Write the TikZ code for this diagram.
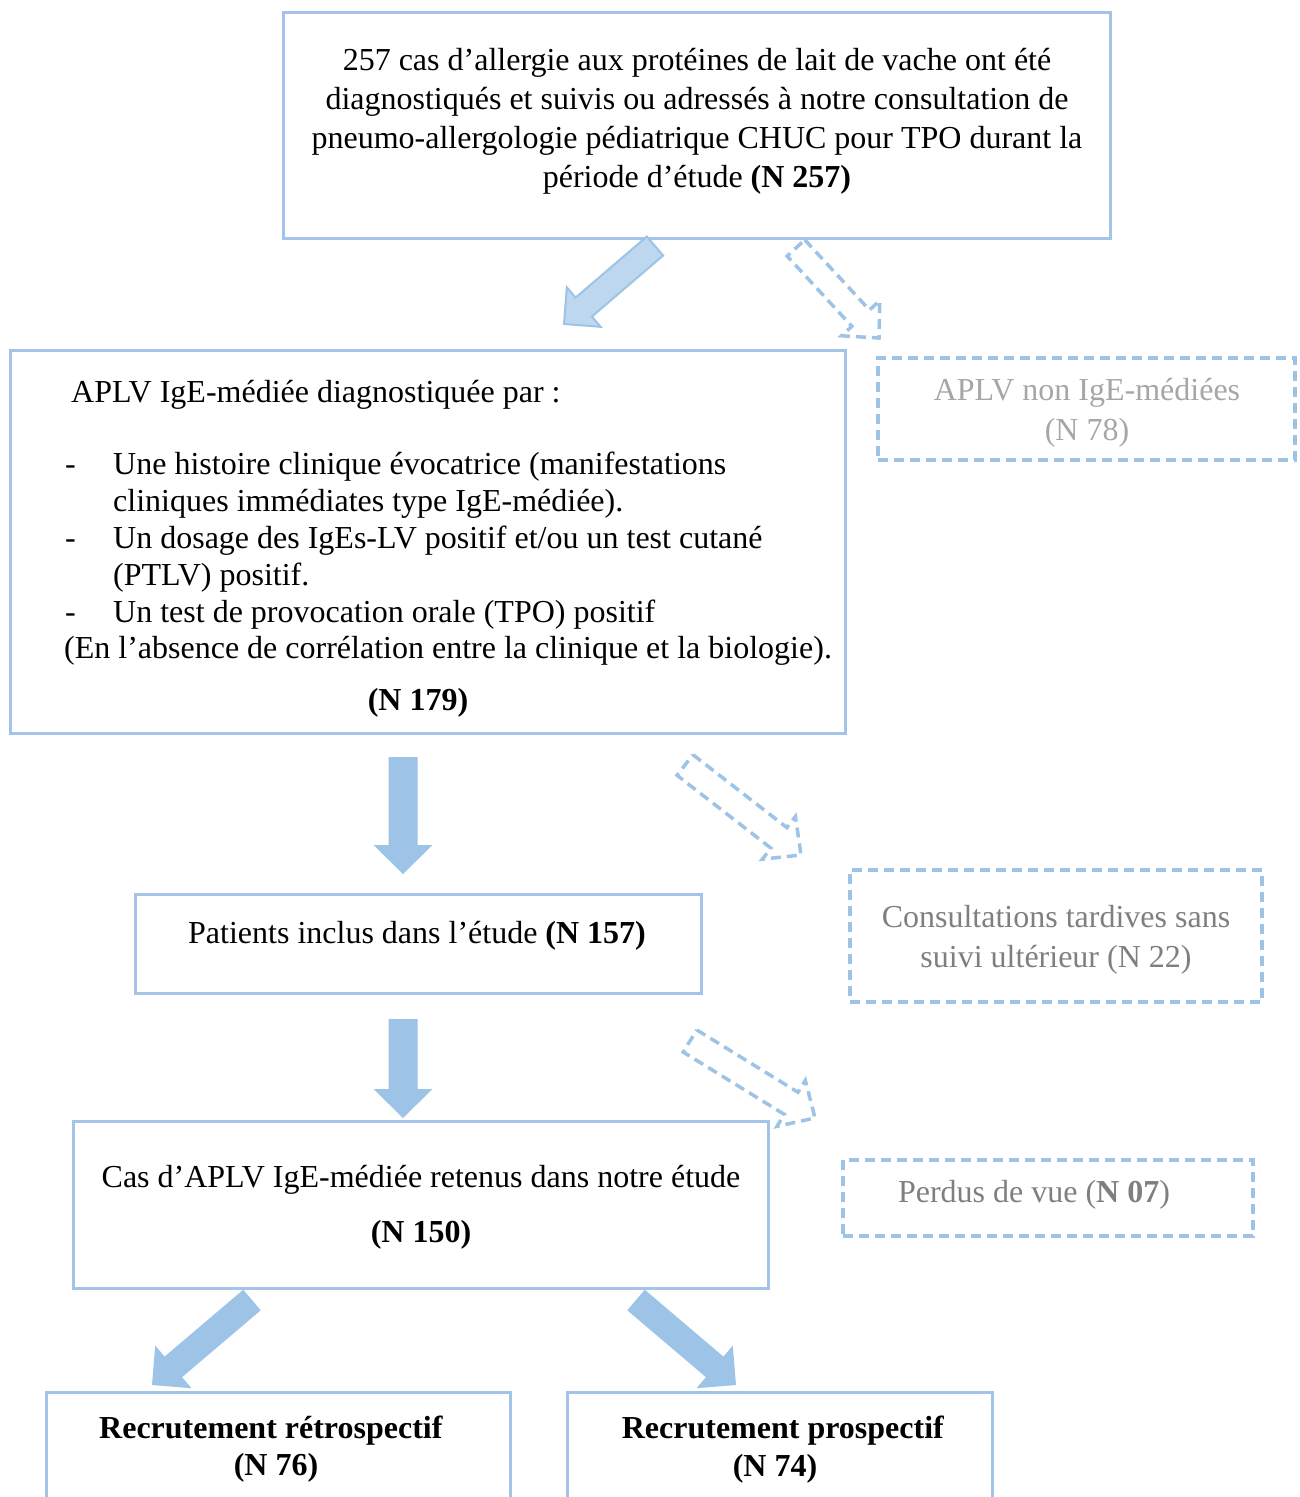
\documentclass[tikz,border=0pt]{standalone}
\usepackage{fontspec}
\setmainfont{Liberation Serif}
\usetikzlibrary{calc}
\definecolor{boxblue}{HTML}{A4C3E8}
\definecolor{arrblue}{HTML}{9DC3E6}
\definecolor{arrlight}{HTML}{BDD7EE}
\definecolor{lgray}{HTML}{A6A6A6}
\definecolor{dgray}{HTML}{7F7F7F}
\newcommand\blockarrow[7]{% #1 prefix, #2 style, #3 tail, #4 tip, #5 half shaft, #6 half head, #7 head length
  \coordinate (#1n) at ($(#4)!#7!(#3)$);
  \draw[#2] ($(#3)!#5!90:(#4)$) -- ($(#1n)!#5!90:(#4)$) -- ($(#1n)!#6!90:(#4)$) -- (#4)
    -- ($(#1n)!#6!-90:(#4)$) -- ($(#1n)!#5!-90:(#4)$) -- ($(#3)!#5!-90:(#4)$) -- cycle;
}
\tikzset{
  boxn/.style={draw=boxblue, line width=3pt, inner sep=0pt},
  dboxn/.style={draw=arrblue, line width=3.5pt, dash pattern=on 10pt off 6pt},
  txt/.style={font=\fontsize{32}{39}\selectfont, inner sep=0pt, anchor=base},
  ltxt/.style={txt, anchor=base west},
  solidarr/.style={fill=arrblue, draw=none},
  lightarr/.style={fill=arrlight, draw=arrblue, line width=2pt, line join=miter},
  dasharr/.style={draw=arrblue, line width=3.5pt, dash pattern=on 10pt off 6pt, line join=miter}
}
\begin{document}
\begin{tikzpicture}[x=1pt,y=-1pt]
\useasboundingbox (0,0) rectangle (1299,1497);
\clip (0,0) rectangle (1299,1497);

% boxes
\node[boxn, minimum width=827pt, minimum height=226pt] (b1) at (696.5,125) {};
\node[boxn, minimum width=835pt, minimum height=383pt] (b2) at (427.5,541.5) {};
\node[dboxn, minimum width=417pt, minimum height=102pt] (b3) at (1086.5,409) {};
\node[boxn, minimum width=566pt, minimum height=99pt] (b4) at (418,943.5) {};
\node[dboxn, minimum width=412pt, minimum height=132pt] (b5) at (1056,936) {};
\node[boxn, minimum width=695pt, minimum height=167pt] (b6) at (420.5,1204.5) {};
\node[dboxn, minimum width=410pt, minimum height=76pt] (b7) at (1048,1198) {};
\node[boxn, minimum width=464pt, minimum height=148pt] (b8) at (278,1466) {};
\node[boxn, minimum width=425pt, minimum height=148pt] (b9) at (779.5,1466) {};

% box 1 text
\node[txt] (t1a) at (697,70) {257 cas d’allergie aux protéines de lait de vache ont été};
\node[txt] (t1b) at (697,109) {diagnostiqués et suivis ou adressés à notre consultation de};
\node[txt] (t1c) at (697,148) {pneumo-allergologie pédiatrique CHUC pour TPO durant la};
\node[txt] (t1d) at (697,187) {période d’étude \textbf{(N 257)}};

% box 2 text
\node[ltxt] (t2a) at (71,402) {APLV IgE-médiée diagnostiquée par :};
\node[ltxt] (d1) at (65,474) {-};
\node[ltxt] (t2b) at (113,474) {Une histoire clinique évocatrice (manifestations};
\node[ltxt] (t2c) at (113,511) {cliniques immédiates type IgE-médiée).};
\node[ltxt] (d2) at (65,548) {-};
\node[ltxt] (t2d) at (113,548) {Un dosage des IgEs-LV positif et/ou un test cutané};
\node[ltxt] (t2e) at (113,585) {(PTLV) positif.};
\node[ltxt] (d3) at (65,622) {-};
\node[ltxt] (t2f) at (113,622) {Un test de provocation orale (TPO) positif};
\node[ltxt] (t2g) at (64,658) {(En l’absence de corrélation entre la clinique et la biologie).};
\node[txt] (t2h) at (418,710) {\textbf{(N 179)}};

% box 3 text
\node[txt, text=lgray] (t3a) at (1087,400) {APLV non IgE-médiées};
\node[txt, text=lgray] (t3b) at (1087,440) {(N 78)};

% box 4 text
\node[txt] (t4) at (417,943) {Patients inclus dans l’étude \textbf{(N 157)}};

% box 5 text
\node[txt, text=dgray] (t5a) at (1056,927) {Consultations tardives sans};
\node[txt, text=dgray] (t5b) at (1056,967) {suivi ultérieur (N 22)};

% box 6 text
\node[txt] (t6a) at (421,1187) {Cas d’APLV IgE-médiée retenus dans notre étude};
\node[txt] (t6b) at (421,1242) {\textbf{(N 150)}};

% box 7 text
\node[txt, text=dgray] (t7) at (1034,1202) {Perdus de vue (\textbf{N 07})};

% box 8/9 text
\node[txt] (t8a) at (271,1438) {\textbf{Recrutement rétrospectif}};
\node[txt] (t8b) at (276,1475) {\textbf{(N 76)}};
\node[txt] (t9a) at (783,1438) {\textbf{Recrutement prospectif}};
\node[txt] (t9b) at (775,1476) {\textbf{(N 74)}};

% arrows
\coordinate (aT) at (655,246); \coordinate (aH) at (564,324);
\coordinate (bT) at (796,248); \coordinate (bH) at (879,338);
\coordinate (cT) at (403,757); \coordinate (cH) at (403,874);
\coordinate (dT) at (685,765); \coordinate (dH) at (801,855);
\coordinate (eT) at (403,1019); \coordinate (eH) at (403,1118);
\coordinate (fT) at (690,1041); \coordinate (fH) at (815,1118);
\coordinate (gT) at (252,1300); \coordinate (gH) at (152,1385);
\coordinate (hT) at (636,1300); \coordinate (hH) at (736,1385);

\blockarrow{a}{lightarr}{aT}{aH}{12.5pt}{26pt}{26pt}
\blockarrow{b}{dasharr}{bT}{bH}{12pt}{26pt}{27pt}
\blockarrow{c}{solidarr}{cT}{cH}{14.5pt}{29.5pt}{29pt}
\blockarrow{d}{dasharr}{dT}{dH}{13pt}{27pt}{28pt}
\blockarrow{e}{solidarr}{eT}{eH}{14.5pt}{29.5pt}{29pt}
\blockarrow{f}{dasharr}{fT}{fH}{13pt}{27pt}{28pt}
\blockarrow{g}{solidarr}{gT}{gH}{13.5pt}{28pt}{28pt}
\blockarrow{h}{solidarr}{hT}{hH}{13.5pt}{28pt}{28pt}
\end{tikzpicture}
\end{document}
